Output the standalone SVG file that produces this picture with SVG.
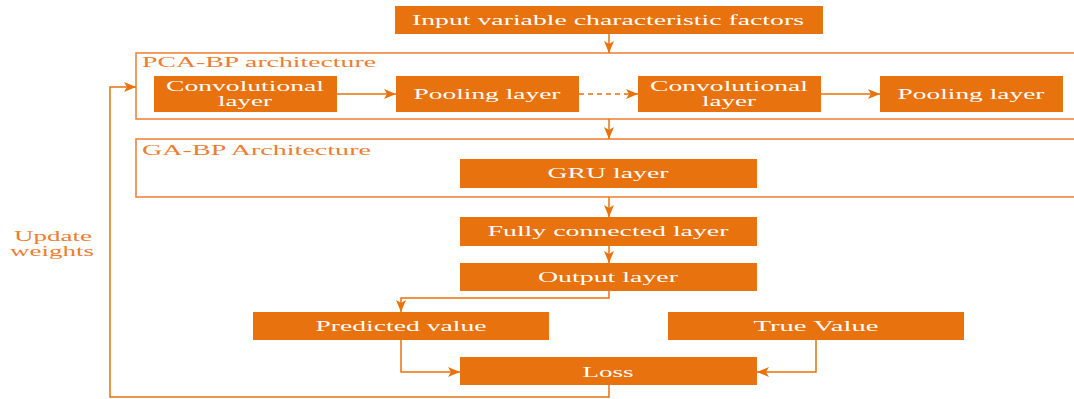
<svg xmlns="http://www.w3.org/2000/svg" width="1074" height="399" viewBox="0 0 1074 399">
<defs>
<style>
.box{fill:#E8720E;}
.frame{fill:none;stroke:#ED7D31;stroke-width:1.5;}
.t{font-family:"Liberation Serif","Times New Roman",serif;font-size:15px;fill:#FFFFFF;text-anchor:middle;}
.lab{font-family:"Liberation Serif","Times New Roman",serif;font-size:15px;fill:#ED7D31;}
.ln{fill:none;stroke:#E8720E;stroke-width:1.5;}
.dash{stroke-dasharray:5 4;}
</style>
<marker id="ah" viewBox="0 0 12 10" refX="12" refY="5" markerWidth="12" markerHeight="10" markerUnits="userSpaceOnUse" orient="auto">
<path d="M0,0 L12,5 L0,10 L3,5 z" fill="#E8720E"/>
</marker>
</defs>
<rect width="1074" height="399" fill="#FFFFFF"/>

<g id="pca-frame">
<rect class="frame" x="136" y="53" width="950" height="66"/>
<text class="lab" x="142" y="67" textLength="234" lengthAdjust="spacingAndGlyphs">PCA-BP architecture</text>
</g>
<g id="ga-frame">
<rect class="frame" x="136" y="139" width="950" height="58"/>
<text class="lab" x="142" y="155" textLength="229" lengthAdjust="spacingAndGlyphs">GA-BP Architecture</text>
</g>

<g id="connectors">
<line class="ln" x1="609" y1="34" x2="609" y2="53" marker-end="url(#ah)"/>
<line class="ln" x1="337" y1="94" x2="396" y2="94" marker-end="url(#ah)"/>
<line class="ln dash" x1="579" y1="94" x2="638" y2="94" marker-end="url(#ah)"/>
<line class="ln" x1="821" y1="94" x2="880" y2="94" marker-end="url(#ah)"/>
<line class="ln" x1="609" y1="119" x2="609" y2="139" marker-end="url(#ah)"/>
<line class="ln" x1="609" y1="197" x2="609" y2="217" marker-end="url(#ah)"/>
<line class="ln" x1="609" y1="246" x2="609" y2="263" marker-end="url(#ah)"/>
<polyline class="ln" points="609,291 609,298 401,298 401,312" marker-end="url(#ah)"/>
<polyline class="ln" points="401,340 401,372 460,372" marker-end="url(#ah)"/>
<polyline class="ln" points="816,340 816,372 757,372" marker-end="url(#ah)"/>
<polyline class="ln" points="609,385 609,397 110,397 110,87 136,87" marker-end="url(#ah)"/>
<text class="lab" x="53" y="241" text-anchor="middle" textLength="78" lengthAdjust="spacingAndGlyphs">Update</text>
<text class="lab" x="52" y="256" text-anchor="middle" textLength="84" lengthAdjust="spacingAndGlyphs">weights</text>
</g>

<g id="input">
<rect class="box" x="395" y="6" width="428" height="28"/>
<text class="t" x="608" y="25" textLength="392" lengthAdjust="spacingAndGlyphs">Input variable characteristic factors</text>
</g>
<g id="conv1">
<rect class="box" x="154" y="76" width="183" height="36"/>
<text class="t" x="245" y="91" textLength="158" lengthAdjust="spacingAndGlyphs">Convolutional</text>
<text class="t" x="245" y="106" textLength="54" lengthAdjust="spacingAndGlyphs">layer</text>
</g>
<g id="pool1">
<rect class="box" x="396" y="76" width="183" height="36"/>
<text class="t" x="487" y="99" textLength="147" lengthAdjust="spacingAndGlyphs">Pooling layer</text>
</g>
<g id="conv2">
<rect class="box" x="638" y="76" width="183" height="36"/>
<text class="t" x="729" y="91" textLength="158" lengthAdjust="spacingAndGlyphs">Convolutional</text>
<text class="t" x="729" y="106" textLength="54" lengthAdjust="spacingAndGlyphs">layer</text>
</g>
<g id="pool2">
<rect class="box" x="880" y="76" width="183" height="36"/>
<text class="t" x="971" y="99" textLength="147" lengthAdjust="spacingAndGlyphs">Pooling layer</text>
</g>
<g id="gru">
<rect class="box" x="460" y="159" width="297" height="29"/>
<text class="t" x="608" y="178" textLength="121" lengthAdjust="spacingAndGlyphs">GRU layer</text>
</g>
<g id="fc">
<rect class="box" x="460" y="217" width="297" height="29"/>
<text class="t" x="608" y="236" textLength="241" lengthAdjust="spacingAndGlyphs">Fully connected layer</text>
</g>
<g id="output">
<rect class="box" x="460" y="263" width="297" height="28"/>
<text class="t" x="608" y="282" textLength="140" lengthAdjust="spacingAndGlyphs">Output layer</text>
</g>
<g id="predicted">
<rect class="box" x="253" y="312" width="296" height="28"/>
<text class="t" x="401" y="331" textLength="171" lengthAdjust="spacingAndGlyphs">Predicted value</text>
</g>
<g id="true">
<rect class="box" x="668" y="312" width="296" height="28"/>
<text class="t" x="816" y="331" textLength="125" lengthAdjust="spacingAndGlyphs">True Value</text>
</g>
<g id="loss">
<rect class="box" x="460" y="357" width="297" height="28"/>
<text class="t" x="608" y="377" textLength="51" lengthAdjust="spacingAndGlyphs">Loss</text>
</g>
</svg>
